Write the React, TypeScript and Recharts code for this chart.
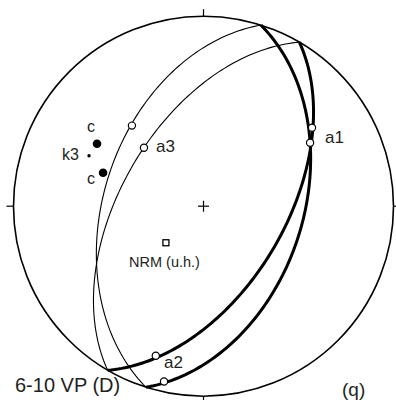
import React from 'react';
import { ScatterChart, Scatter, XAxis, YAxis, ReferenceDot, ReferenceLine } from 'recharts';

// Planes (remagnetization great circles): strike / dip (right-hand rule)
const planeNames = ['circle 1', 'circle 2'];
const planeStrikes = [17.6, 30.3];
const planeDips = [46.5, 54.6];

// Open-circle directions (a1, a2, a3 and the extra point on circle 1)
const openNames = ['p', 'a3', 'a1', 'a1', 'a2', 'a2'];
const openDecs = [318.4, 314.5, 54.1, 59.2, 197.7, 192.7];
const openIncs = [42.7, 53.8, 30.2, 35.0, 18.5, 6.1];

// c directions (filled) and k3 axis
const cDecs = [300.4, 288.4];
const cIncs = [35.3, 43.6];
const k3Decs = [293.8];
const k3Incs = [34.5];

// NRM (upper hemisphere)
const nrmDecs = [225.8];
const nrmIncs = [67.5];

const RAD = Math.PI / 180;
const DEG = 180 / Math.PI;

function project(dec: number, inc: number) {
  const r = Math.SQRT2 * Math.sin(((90 - inc) / 2) * RAD);
  return { x: r * Math.sin(dec * RAD), y: r * Math.cos(dec * RAD) };
}

function greatCircle(strike: number, dip: number, upper: boolean) {
  const pts: { x: number; y: number }[] = [];
  const s = strike * RAD;
  const dd = (strike + 90) * RAD;
  const dp = dip * RAD;
  for (let t = 0; t <= 180; t += 1.5) {
    const tr = t * RAD;
    const e = Math.cos(tr) * Math.sin(s) + Math.sin(tr) * Math.cos(dp) * Math.sin(dd);
    const n = Math.cos(tr) * Math.cos(s) + Math.sin(tr) * Math.cos(dp) * Math.cos(dd);
    const dn = Math.sin(tr) * Math.sin(dp);
    const inc = Math.asin(Math.max(-1, Math.min(1, dn))) * DEG;
    const dec = Math.atan2(e, n) * DEG;
    const p = project(dec, inc);
    pts.push(upper ? { x: -p.x, y: -p.y } : p);
  }
  return pts;
}

const toPoints = (decs: number[], incs: number[]) => decs.map((d, i) => project(d, incs[i]));

const CX = 203.5;
const CY = 206.2;
const R = 190;
const W = 396;
const H = 400;
const xDomain = [(0 - CX) / R, (W - CX) / R];
const yDomain = [-(H - CY) / R, CY / R];
const TICK = 7 / R;
const PLUS = 5.5 / R;

const FONT = 'Liberation Sans, Arial, sans-serif';

const noShape = () => <g />;

export default function App() {
  const openPts = toPoints(openDecs, openIncs);
  const cPts = toPoints(cDecs, cIncs);
  const k3Pts = toPoints(k3Decs, k3Incs);
  const nrmPts = toPoints(nrmDecs, nrmIncs);

  return (
    <div style={{ position: 'absolute', left: 0, top: 0, background: '#fff' }}>
      <ScatterChart width={W} height={H} margin={{ top: 0, right: 0, bottom: 0, left: 0 }}>
        <XAxis type="number" dataKey="x" domain={xDomain} hide allowDataOverflow />
        <YAxis type="number" dataKey="y" domain={yDomain} hide allowDataOverflow />

        <ReferenceDot x={0} y={0} r={R} fill="none" stroke="#000" strokeWidth={1.6} ifOverflow="visible" />
        <ReferenceLine segment={[{ x: 0, y: 1 }, { x: 0, y: 1 + TICK }]} stroke="#000" strokeWidth={1.2} ifOverflow="visible" />
        <ReferenceLine segment={[{ x: 0, y: -1 }, { x: 0, y: -1 - TICK }]} stroke="#000" strokeWidth={1.2} ifOverflow="visible" />
        <ReferenceLine segment={[{ x: -1, y: 0 }, { x: -1 - TICK, y: 0 }]} stroke="#000" strokeWidth={1.2} ifOverflow="visible" />
        <ReferenceLine segment={[{ x: 1, y: 0 }, { x: 1 + TICK, y: 0 }]} stroke="#000" strokeWidth={1.2} ifOverflow="visible" />
        <ReferenceLine segment={[{ x: -PLUS, y: 0 }, { x: PLUS, y: 0 }]} stroke="#000" strokeWidth={1.2} ifOverflow="visible" />
        <ReferenceLine segment={[{ x: 0, y: -PLUS }, { x: 0, y: PLUS }]} stroke="#000" strokeWidth={1.2} ifOverflow="visible" />

        {planeNames.map((name, i) => (
          <Scatter
            key={name + '-upper'}
            name={name + ' upper'}
            data={greatCircle(planeStrikes[i], planeDips[i], true)}
            line={{ stroke: '#000', strokeWidth: 1.1 }}
            shape={noShape}
            isAnimationActive={false}
          />
        ))}
        {planeNames.map((name, i) => (
          <Scatter
            key={name + '-lower'}
            name={name + ' lower'}
            data={greatCircle(planeStrikes[i], planeDips[i], false)}
            line={{ stroke: '#000', strokeWidth: 3 }}
            shape={noShape}
            isAnimationActive={false}
          />
        ))}

        <Scatter
          name="open"
          data={openPts}
          isAnimationActive={false}
          shape={(p: any) => <circle cx={p.cx} cy={p.cy} r={3.6} fill="#fff" stroke="#000" strokeWidth={1.2} />}
        />
        <Scatter
          name="c"
          data={cPts}
          isAnimationActive={false}
          shape={(p: any) => <circle cx={p.cx} cy={p.cy} r={4.3} fill="#000" />}
        />
        <Scatter
          name="k3"
          data={k3Pts}
          isAnimationActive={false}
          shape={(p: any) => <circle cx={p.cx} cy={p.cy} r={1.7} fill="#000" />}
        />
        <Scatter
          name="NRM"
          data={nrmPts}
          isAnimationActive={false}
          shape={(p: any) => <rect x={p.cx - 3} y={p.cy - 3} width={6} height={6} fill="#fff" stroke="#000" strokeWidth={1.3} />}
        />

        <text x={156} y={152} fontFamily={FONT} fontSize={17} fill="#231f20">a3</text>
        <text x={325} y={143} fontFamily={FONT} fontSize={17} fill="#231f20">a1</text>
        <text x={164} y={368} fontFamily={FONT} fontSize={17} fill="#231f20">a2</text>
        <text x={87} y={132} fontFamily={FONT} fontSize={16} fill="#231f20">c</text>
        <text x={62} y={160} fontFamily={FONT} fontSize={16} fill="#231f20">k3</text>
        <text x={87} y={184} fontFamily={FONT} fontSize={16} fill="#231f20">c</text>
        <text x={129} y={267} fontFamily={FONT} fontSize={14.5} fill="#231f20">NRM (u.h.)</text>
        <text x={15} y={392} fontFamily={FONT} fontSize={20} fill="#231f20">6-10 VP (D)</text>
        <text x={342} y={396} fontFamily={FONT} fontSize={19} fill="#231f20">(q)</text>
      </ScatterChart>
    </div>
  );
}
